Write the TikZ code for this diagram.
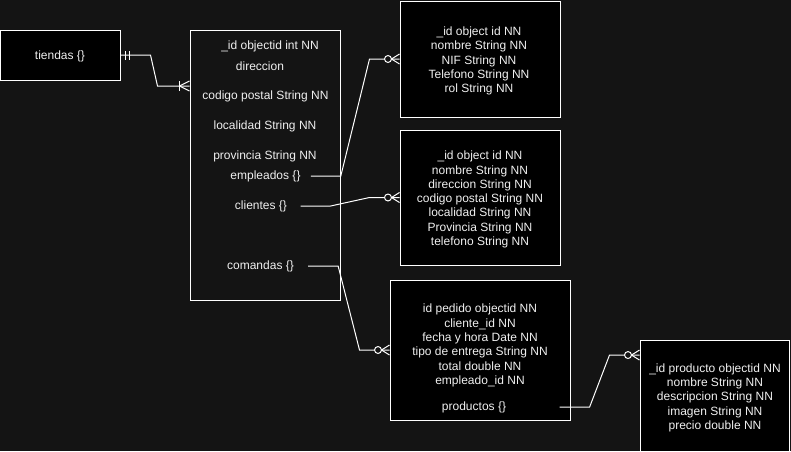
\documentclass[tikz,border=0pt]{standalone}
\usepackage{fontspec}
\setmainfont{Liberation Sans}
\usetikzlibrary{calc}
\definecolor{bgdark}{RGB}{20,20,20}
\definecolor{txtgray}{RGB}{240,240,240}
\tikzset{
  entbox/.style={draw=white,fill=black,line width=0.75pt,inner sep=0pt},
  fieldtxt/.style={text=txtgray,font=\fontsize{9}{10.7}\selectfont,align=center,
    inner sep=0pt,yshift=-0.75pt},
  conn/.style={draw=white,line width=0.75pt},
  zeromany/.pic={
    \draw[conn] (-8,0) -- (0,-5) (-8,0) -- (0,5);
    \draw[conn,fill=bgdark] (-11.5,0) circle [radius=2.6pt];
  },
  onemany/.pic={
    \draw[conn] (-10,-5) -- (-10,5);
    \draw[conn] (-10,0) -- (0,-5) (-10,0) -- (0,5);
  },
  mandone/.pic={
    \draw[conn] (5,-4.5) -- (5,4.5) (8.5,-4.5) -- (8.5,4.5);
  }
}
\begin{document}
\begin{tikzpicture}[x=0.75pt,y=0.75pt,yscale=-1,xscale=1]
\fill[bgdark] (0,0) rectangle (791,451);
\useasboundingbox (0,0) rectangle (791,451);

%Shape: Rectangle [tiendas]
\node[entbox,minimum width=90pt,minimum height=37.5pt] (tiendas) at (60,55) {};
% Text Node
\node[fieldtxt] (tiTxt) at (tiendas) {tiendas \{\}};
%Shape: Rectangle [tienda]
\node[entbox,fill=none,minimum width=112.5pt,minimum height=202.5pt] (tienda) at (265,165) {};

% Text Node
\node[fieldtxt] (fId) at (270,45) {\_id objectid int NN};
% Text Node
\node[fieldtxt] (fDir) at (260,65) {direccion};
% Text Node
\node[fieldtxt] (fCp) at (265.5,95) {codigo postal String NN};
% Text Node
\node[fieldtxt] (fLoc) at (265,125) {localidad String NN};
% Text Node
\node[fieldtxt] (fProv) at (265,155) {provincia String NN};
% Text Node
\node[fieldtxt] (lblEmp) at (265.5,175) {empleados \{\}};
% Text Node
\node[fieldtxt] (lblCli) at (261,205) {clientes \{\}};
% Text Node
\node[fieldtxt] (lblCmd) at (260.5,265) {comandas \{\}};

%Shape: Rectangle [empleados]
\node[entbox,minimum width=120pt,minimum height=87pt] (empBox) at (480,59) {};
% Text Node
\node[fieldtxt] (empTxt) at (479,60)
  {\_id object id NN\\nombre String NN\\NIF String NN\\Telefono String NN\\rol String NN};
%Shape: Rectangle [clientes]
\node[entbox,minimum width=120pt,minimum height=101.25pt] (cliBox) at (480,197.5) {};
% Text Node
\node[fieldtxt] (cliTxt) at (480,198.5)
  {\_id object id NN\\nombre String NN\\direccion String NN\\codigo postal String NN\\localidad String NN\\Provincia String NN\\telefono String NN};
%Shape: Rectangle [comandas]
\node[entbox,minimum width=135pt,minimum height=105pt] (cmdBox) at (480,350) {};
% Text Node
\node[fieldtxt] (fCmd) at (480,344.5)
  {id pedido objectid NN\\cliente\_id NN\\fecha y hora Date NN\\tipo de entrega String NN\\total double NN\\empleado\_id NN};
% Text Node
\node[fieldtxt] (lblProd) at (474,406) {productos \{\}};
%Shape: Rectangle [productos]
\node[entbox,minimum width=111.75pt,minimum height=83.5pt] (prodBox) at (714.5,395.7) {};
% Text Node
\node[fieldtxt] (prodTxt) at (715,396.7)
  {\_id producto objectid NN\\nombre String NN\\descripcion String NN\\imagen String NN\\precio double NN};

\coordinate (tiIn) at (tienda.west |- 0,86);
\coordinate (prodIn) at ($(prodBox.north west)+(0,15.5)$);

%Connectors
\draw[conn] (tiendas.east) -- ++(30,0) -- ([xshift=-24pt]tiIn) -- (tiIn);
\pic at (tiendas.east) {mandone};
\pic at (tiIn) {onemany};

\draw[conn] ([xshift=7.5pt]lblEmp.east) -- ++(30,0) -- ([xshift=-22.5pt]empBox.west) -- (empBox.west);
\pic at (empBox.west) {zeromany};

\draw[conn] ([xshift=10pt]lblCli.east) -- ++(30,0) -- ([xshift=-22.5pt]cliBox.west) -- (cliBox.west);
\pic at (cliBox.west) {zeromany};

\draw[conn] ([xshift=10.5pt]lblCmd.east) -- ++(30,0) -- ([xshift=-22.5pt]cmdBox.west) -- (cmdBox.west);
\pic at (cmdBox.west) {zeromany};

\draw[conn] ([xshift=40pt]lblProd.east) -- ++(30,0) -- ([xshift=-22.5pt]prodIn) -- (prodIn);
\pic at (prodIn) {zeromany};

\end{tikzpicture}
\end{document}
